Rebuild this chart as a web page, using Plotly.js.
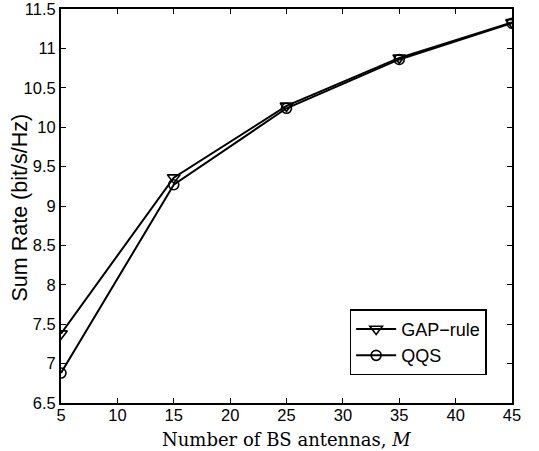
<!DOCTYPE html>
<html>
<head>
<meta charset="utf-8">
<script src="https://cdn.plot.ly/plotly-3.0.1.min.js"></script>
<style>html,body{margin:0;padding:0;background:#fff;}#chart{width:539px;height:451px;}</style>
</head>
<body>
<div id="chart"></div>
<script>
const antennas = [5, 15, 25, 35, 45];
const gapRule = [7.38, 9.36, 10.27, 10.88, 11.33];
const qqs = [6.88, 9.27, 10.24, 10.86, 11.32];
const xTicks = [5, 10, 15, 20, 25, 30, 35, 40, 45];
const yTicks = [6.5, 7, 7.5, 8, 8.5, 9, 9.5, 10, 10.5, 11, 11.5];
const seriesNames = ['GAP\u2212rule', 'QQS'];
const xTitle = 'Number of BS antennas, <i>M</i>';
const yTitle = 'Sum Rate (bit/s/Hz)';

const traces = [
  {x: antennas, y: gapRule, name: seriesNames[0], mode: 'lines+markers',
   line: {color: '#000', width: 2},
   marker: {symbol: 'triangle-down-open', size: 11, color: '#000', line: {color: '#000', width: 1.6}}},
  {x: antennas, y: qqs, name: seriesNames[1], mode: 'lines+markers',
   line: {color: '#000', width: 2},
   marker: {symbol: 'circle-open', size: 10, color: '#000', line: {color: '#000', width: 1.6}}}
];

const axisCommon = {
  showline: true, linecolor: '#000', linewidth: 2, mirror: 'allticks',
  ticks: 'inside', ticklen: 5, tickwidth: 1, tickcolor: '#000',
  showgrid: false, zeroline: false, ticklabeloverflow: 'allow',
  tickfont: {family: 'Liberation Sans, Arial, sans-serif', size: 16.5, color: '#000'}
};

const layout = {
  width: 539, height: 451,
  margin: {l: 61, r: 27, t: 9, b: 48},
  paper_bgcolor: '#fff', plot_bgcolor: '#fff',
  showlegend: true,
  xaxis: Object.assign({}, axisCommon, {
    range: [5, 45], tickvals: xTicks, ticktext: xTicks.map(String),
    ticklabelstandoff: -4
  }),
  yaxis: Object.assign({}, axisCommon, {
    range: [6.5, 11.5], tickvals: yTicks, ticktext: yTicks.map(String)
  }),
  annotations: [
    {text: xTitle, xref: 'paper', yref: 'paper', x: 0.5, y: -0.093,
     xanchor: 'center', yanchor: 'middle', showarrow: false,
     font: {family: 'DejaVu Serif, Liberation Serif, serif', size: 18, color: '#000'}},
    {text: yTitle, xref: 'paper', yref: 'paper', x: -0.092, y: 0.495,
     xanchor: 'center', yanchor: 'middle', showarrow: false, textangle: -90,
     font: {family: 'Liberation Sans, Arial, sans-serif', size: 21.5, color: '#000'}}
  ],
  legend: {
    x: 0.64, y: 0.238, xanchor: 'left', yanchor: 'top',
    bgcolor: '#fff', bordercolor: '#000', borderwidth: 1.5,
    font: {family: 'Liberation Sans, Arial, sans-serif', size: 18, color: '#000'},
    tracegroupgap: 0, itemwidth: 40
  }
};

Plotly.newPlot('chart', traces, layout, {displayModeBar: false, staticPlot: true});
</script>
</body>
</html>
